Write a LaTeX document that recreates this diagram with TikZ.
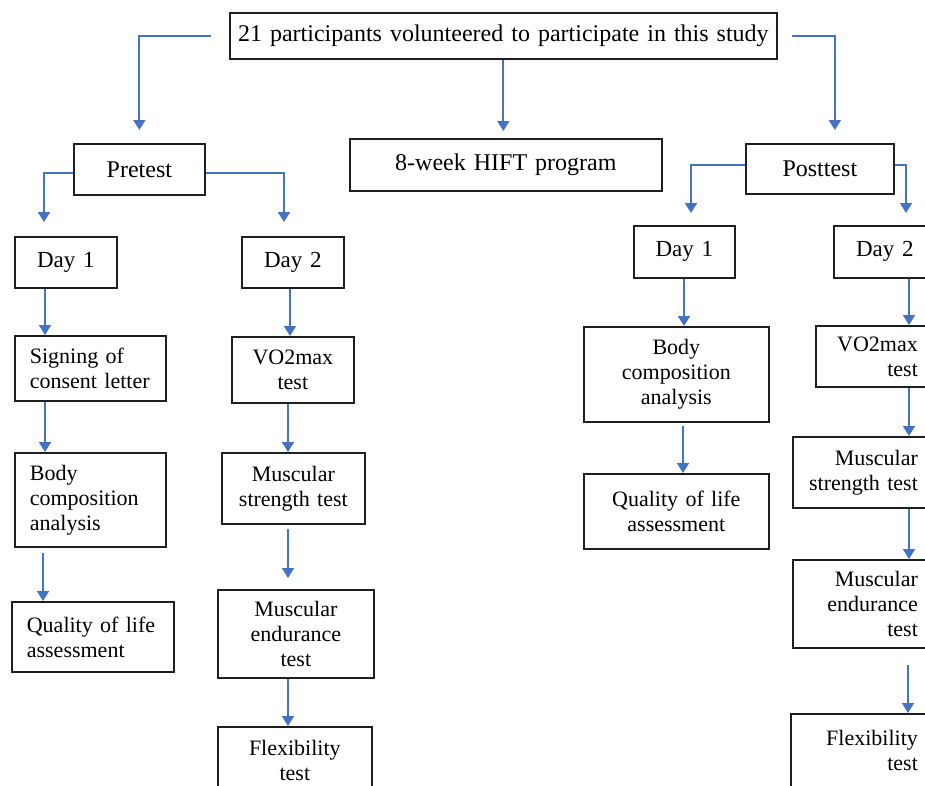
\documentclass[tikz,border=0pt]{standalone}
\usepackage{fontspec}
\setmainfont{Liberation Serif}
\usetikzlibrary{arrows.meta}
\definecolor{arrblue}{HTML}{4472C4}
\begin{document}
\begin{tikzpicture}[x=1pt,y=-1pt,
 box/.style={draw=black!88, line width=1.7pt, inner ysep=0pt, anchor=north west, font=\fontsize{22}{25}\selectfont},
 bigf/.style={font=\fontsize{24}{27}\selectfont},
 dayf/.style={font=\fontsize{23}{26}\selectfont},
 ctr/.style={inner xsep=0pt, align=center},
 lft/.style={inner xsep=15pt, align=left},
 rgt/.style={inner xsep=10pt, align=right},
 arr/.style={draw=arrblue, line width=1.8pt, -{Triangle[width=12pt,length=10pt]}}]
\useasboundingbox (0,0) rectangle (925,785);
\clip (0,0) rectangle (925,785);
% top level
\node[box,bigf,ctr,text width=547pt,minimum height=46pt] (top) at (229,12) {21 participants volunteered to participate in this study};
\node[box,bigf,ctr,text width=131pt,minimum height=51pt] (pre) at (73,143) {Pretest};
\node[box,bigf,ctr,text width=312pt,minimum height=52pt] (hift) at (349,138) {8-week HIFT program};
\node[box,bigf,ctr,text width=148pt,minimum height=50pt] (post) at (745,143) {Posttest};
% pretest
\node[box,dayf,ctr,text width=102pt,minimum height=51pt] (d1L) at (14,236) {Day 1};
\node[box,dayf,ctr,text width=102pt,minimum height=51pt] (d2L) at (241,236) {Day 2};
\node[box,lft,text width=121pt,minimum height=65pt] (signL) at (14,335) {Signing of\\consent letter};
\node[box,lft,text width=121pt,minimum height=94pt] (bodyL) at (14,452) {Body\\composition\\analysis};
\node[box,lft,text width=132pt,minimum height=70pt] (qolL) at (11,601) {Quality of life\\assessment};
\node[box,ctr,text width=122pt,minimum height=66pt] (vo2L) at (231,336) {VO2max\\test};
\node[box,ctr,text width=143pt,minimum height=71pt] (msL) at (221,452) {Muscular\\strength test};
\node[box,ctr,text width=156pt,minimum height=88pt] (meL) at (217,589) {Muscular\\endurance\\test};
\node[box,ctr,text width=154pt,minimum height=68pt] (flexL) at (217,726) {Flexibility\\test};
% posttest
\node[box,dayf,ctr,text width=101pt,minimum height=52pt] (d1R) at (633,225) {Day 1};
\node[box,ctr,text width=185pt,minimum height=95pt] (bodyR) at (583,326) {Body\\composition\\analysis};
\node[box,ctr,text width=185pt,minimum height=75pt] (qolR) at (583,473) {Quality of life\\assessment};
\node[box,dayf,ctr,text width=102pt,minimum height=52pt] (d2R) at (833,225) {Day 2};
\node[box,rgt,text width=92pt,minimum height=61pt] (vo2R) at (815,325) {VO2max\\test};
\node[box,rgt,text width=115pt,minimum height=71pt] (msR) at (792,436) {Muscular\\strength test};
\node[box,rgt,text width=115pt,minimum height=88pt] (meR) at (792,559) {Muscular\\endurance\\test};
\node[box,rgt,text width=117pt,minimum height=73pt] (flexR) at (790,713) {Flexibility\\test};
% connectors from top
\draw[arr, shorten <=18pt, shorten >=13pt] (top.west) -| (pre.north);
\draw[arr, shorten >=7pt] (top.south) -- (top.south |- hift.north);
\draw[arr, shorten <=14pt, shorten >=13pt] (top.east) -| ([xshift=15pt]post.north);
% branching
\draw[arr, shorten >=14pt] ([yshift=-3.5pt]pre.west) -| ([xshift=30pt]d1L.north west);
\draw[arr, shorten >=14pt] ([yshift=-3.5pt]pre.east) -| ([xshift=43pt]d2L.north west);
\draw[arr, shorten >=12pt] ([yshift=4pt]post.west) -| ([xshift=58pt]d1R.north west);
\draw[arr, shorten >=12pt] ([yshift=4pt]post.east) -| ([xshift=73pt]d2R.north west);
% pretest day 1
\draw[arr] ([xshift=31pt]d1L.south west) -- ([xshift=31pt]signL.north west);
\draw[arr] ([xshift=31pt]signL.south west) -- ([xshift=31pt]bodyL.north west);
\draw[arr, shorten <=5pt] ([xshift=29pt]bodyL.south west) -- ([xshift=32pt]qolL.north west);
% pretest day 2
\draw[arr] ([xshift=49pt]d2L.south west) -- ([xshift=59pt]vo2L.north west);
\draw[arr] ([xshift=57pt]vo2L.south west) -- ([xshift=67pt]msL.north west);
\draw[arr, shorten <=4pt, shorten >=11pt] ([xshift=67pt]msL.south west) -- ([xshift=71pt]meL.north west);
\draw[arr] ([xshift=71pt]meL.south west) -- ([xshift=71pt]flexL.north west);
% posttest day 1
\draw[arr] ([xshift=51pt]d1R.south west) -- ([xshift=101pt]bodyR.north west);
\draw[arr, shorten <=3pt] ([xshift=100pt]bodyR.south west) -- ([xshift=100pt]qolR.north west);
% posttest day 2
\draw[arr] ([xshift=76pt]d2R.south west) -- ([xshift=94pt]vo2R.north west);
\draw[arr] ([xshift=94pt]vo2R.south west) -- ([xshift=117pt]msR.north west);
\draw[arr] ([xshift=117pt]msR.south west) -- ([xshift=117pt]meR.north west);
\draw[arr, shorten <=16pt] ([xshift=116pt]meR.south west) -- ([xshift=118pt]flexR.north west);
\end{tikzpicture}
\end{document}
